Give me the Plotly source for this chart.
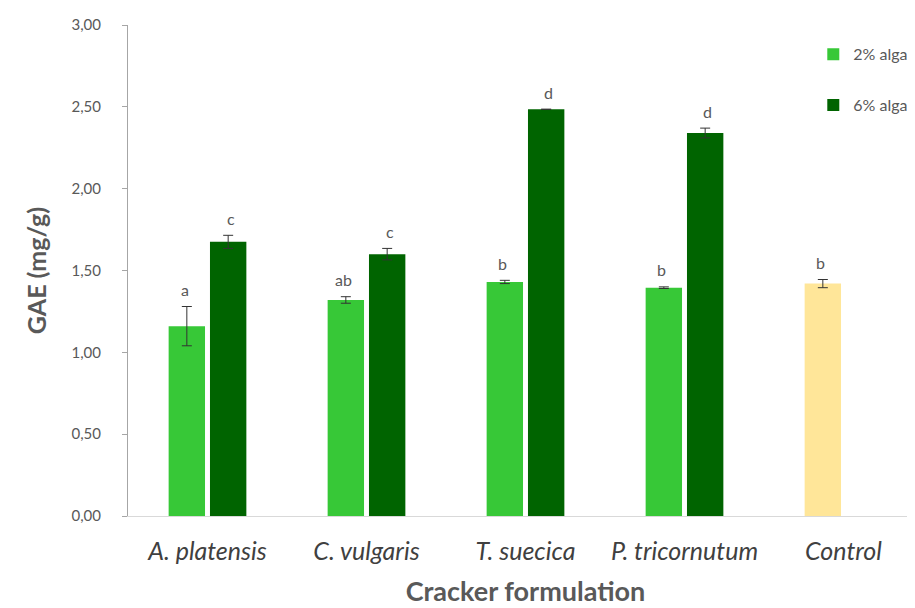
import plotly.graph_objects as go

categories = ["A. platensis", "C. vulgaris", "T. suecica", "P. tricornutum", "Control"]
alga2_values = [1.16, 1.32, 1.43, 1.395, 1.42]
alga2_errors = [0.12, 0.02, 0.01, 0.005, 0.025]
alga2_letters = ["a", "ab", "b", "b", "b"]
alga6_values = [1.675, 1.60, 2.485, 2.34, None]
alga6_errors = [0.04, 0.035, 0.0, 0.03, None]
alga6_letters = ["c", "c", "d", "d", None]
y_ticks = [0, 0.5, 1.0, 1.5, 2.0, 2.5, 3.0]

light = "#37C837"
dark = "#006400"
ctrl = "#FFE699"
gray = "#595959"
font_fam = "Lato, 'Open Sans', sans-serif"

fig = go.Figure()
fig.add_trace(go.Bar(
    x=categories, y=alga2_values, name="2% alga", legendgroup="a",
    marker=dict(color=[light, light, light, light, ctrl], line=dict(width=0)),
    error_y=dict(type="data", array=alga2_errors, color="#333333", thickness=1, width=5),
))
fig.add_trace(go.Bar(
    x=categories, y=alga6_values, name="6% alga", legendgroup="b",
    marker=dict(color=dark, line=dict(width=0)),
    error_y=dict(type="data", array=alga6_errors, color="#333333", thickness=1, width=5),
))

for i, c in enumerate(categories):
    if alga2_letters[i]:
        fig.add_annotation(x=c, y=alga2_values[i] + alga2_errors[i], text=alga2_letters[i],
                           showarrow=False, xshift=-23, yshift=17,
                           font=dict(size=16, color=gray, family=font_fam))
    if alga6_letters[i]:
        fig.add_annotation(x=c, y=alga6_values[i] + alga6_errors[i], text=alga6_letters[i],
                           showarrow=False, xshift=23, yshift=17,
                           font=dict(size=16, color=gray, family=font_fam))

fig.update_layout(
    width=915, height=608,
    margin=dict(l=120, r=0, t=17, b=100),
    paper_bgcolor="white", plot_bgcolor="white",
    separators=",.",
    barmode="group", bargap=0.48, bargroupgap=0.12,
    font=dict(family=font_fam, color=gray),
    legend=dict(x=0.862, xanchor="left", y=0.975, yanchor="top",
                font=dict(size=16, color=gray), tracegroupgap=27,
                traceorder="grouped", bgcolor="rgba(0,0,0,0)"),
    xaxis=dict(
        showline=True, linecolor="#D9D9D9", linewidth=1, ticks="",
        tickfont=dict(size=25, color="#404040", style="italic"),
        ticklabelstandoff=13,
        title=dict(text="<b>Cracker formulation</b>", font=dict(size=27, color=gray), standoff=18),
    ),
    yaxis=dict(
        range=[0, 3], tickvals=y_ticks, tickformat=".2f",
        showline=True, linecolor="#A6A6A6", linewidth=1, ticks="outside", ticklen=5,
        tickcolor="#A6A6A6", showgrid=False, zeroline=False,
        tickfont=dict(size=15, color=gray), ticklabelstandoff=18,
        title=dict(text="<b>GAE (mg/g)</b>", font=dict(size=25, color=gray), standoff=17),
    ),
)

fig.write_html("out.html")
